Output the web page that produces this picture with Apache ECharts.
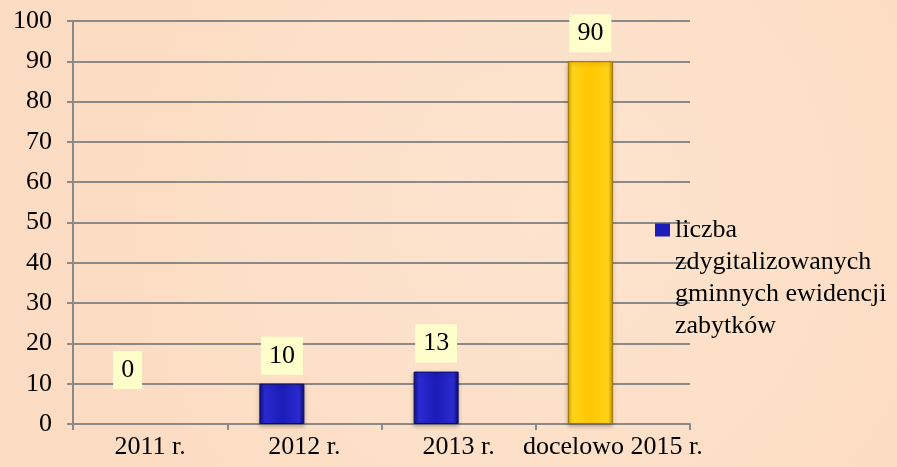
<!DOCTYPE html>
<html><head><meta charset="utf-8">
<script src="https://cdn.jsdelivr.net/npm/echarts@6/dist/echarts.min.js"></script>
<style>html,body{margin:0;padding:0;background:#FDE2CA}#c{width:897px;height:467px}</style>
</head><body><div id="c"></div>
<script>
var categories = ['2011 r.', '2012 r.', '2013 r.', 'docelowo 2015 r.'];
var values = [0, 10, 13, 90];
var barKinds = ['blue', 'blue', 'blue', 'yellow'];
var seriesName = 'liczba\nzdygitalizowanych\ngminnych ewidencji\nzabytków';
var yTicks = { min: 0, max: 100, interval: 10 };

var FONT = '"Liberation Serif", "Times New Roman", serif';
var fills = {
  blue: new echarts.graphic.LinearGradient(0, 0, 1, 0, [
    {offset: 0, color: '#101088'}, {offset: 0.12, color: '#2a2ad0'},
    {offset: 0.5, color: '#1c1cb8'}, {offset: 0.88, color: '#2a2ad0'}, {offset: 1, color: '#0c0c70'}]),
  yellow: new echarts.graphic.LinearGradient(0, 0, 1, 0, [
    {offset: 0, color: '#d9a400'}, {offset: 0.1, color: '#ffd21a'},
    {offset: 0.5, color: '#ffc800'}, {offset: 0.9, color: '#ffd21a'}, {offset: 1, color: '#c99400'}])
};
var borders = { blue: '#0a0a60', yellow: '#a07400' };

var data = values.map(function (v, i) {
  var k = barKinds[i];
  var zero = v === 0;
  return {
    value: v,
    itemStyle: zero
      ? { color: 'transparent', borderWidth: 0, shadowBlur: 0, shadowColor: 'transparent' }
      : { color: fills[k], borderColor: borders[k], borderWidth: 1 },
    label: { distance: zero ? 35 : 9 }
  };
});

var chart = echarts.init(document.getElementById('c'));
chart.setOption({
  backgroundColor: new echarts.graphic.RadialGradient(0.6, 0.45, 0.9, [
    {offset: 0, color: '#FDE4CF'}, {offset: 1, color: '#FCDDC3'}]),
  animation: false,
  grid: { left: 73, right: 207, top: 21, bottom: 43 },
  legend: {
    data: [seriesName],
    orient: 'vertical',
    left: 655, top: 118, padding: 0,
    itemWidth: 15, itemHeight: 13,
    icon: 'rect',
    formatter: function (n) { return '\n\n\n' + n; },
    textStyle: { fontFamily: FONT, fontSize: 26, lineHeight: 32, color: '#000' }
  },
  xAxis: {
    type: 'category',
    data: categories,
    axisLine: { lineStyle: { color: '#8a8a8a', width: 2 } },
    axisTick: { show: true, length: 6, lineStyle: { color: '#8a8a8a', width: 2 } },
    axisLabel: { fontFamily: FONT, fontSize: 26, color: '#000', margin: 10, interval: 0, hideOverlap: false }
  },
  yAxis: {
    type: 'value',
    min: yTicks.min, max: yTicks.max, interval: yTicks.interval,
    axisLine: { show: true, lineStyle: { color: '#8a8a8a', width: 2 } },
    axisTick: { show: true, length: 6, lineStyle: { color: '#8a8a8a', width: 2 } },
    splitLine: { lineStyle: { color: '#8a8a8a', width: 2 } },
    axisLabel: { fontFamily: FONT, fontSize: 26, color: '#000', margin: 21 }
  },
  series: [
    {
      name: seriesName,
      type: 'bar',
      barWidth: 45,
      barGap: '0%',
      data: data,
      itemStyle: { color: '#1c1cb8', shadowColor: 'rgba(0,0,0,0.25)', shadowBlur: 4, shadowOffsetY: 2 },
      label: {
        show: true, position: 'top',
        fontFamily: FONT, fontSize: 26, color: '#000',
        backgroundColor: '#FFFFCC', padding: [6, 8], lineHeight: 26
      }
    },
    {
      name: 'empty',
      type: 'bar',
      barWidth: 45,
      data: ['-', '-', '-', '-']
    }
  ]
});
</script>
</body></html>
